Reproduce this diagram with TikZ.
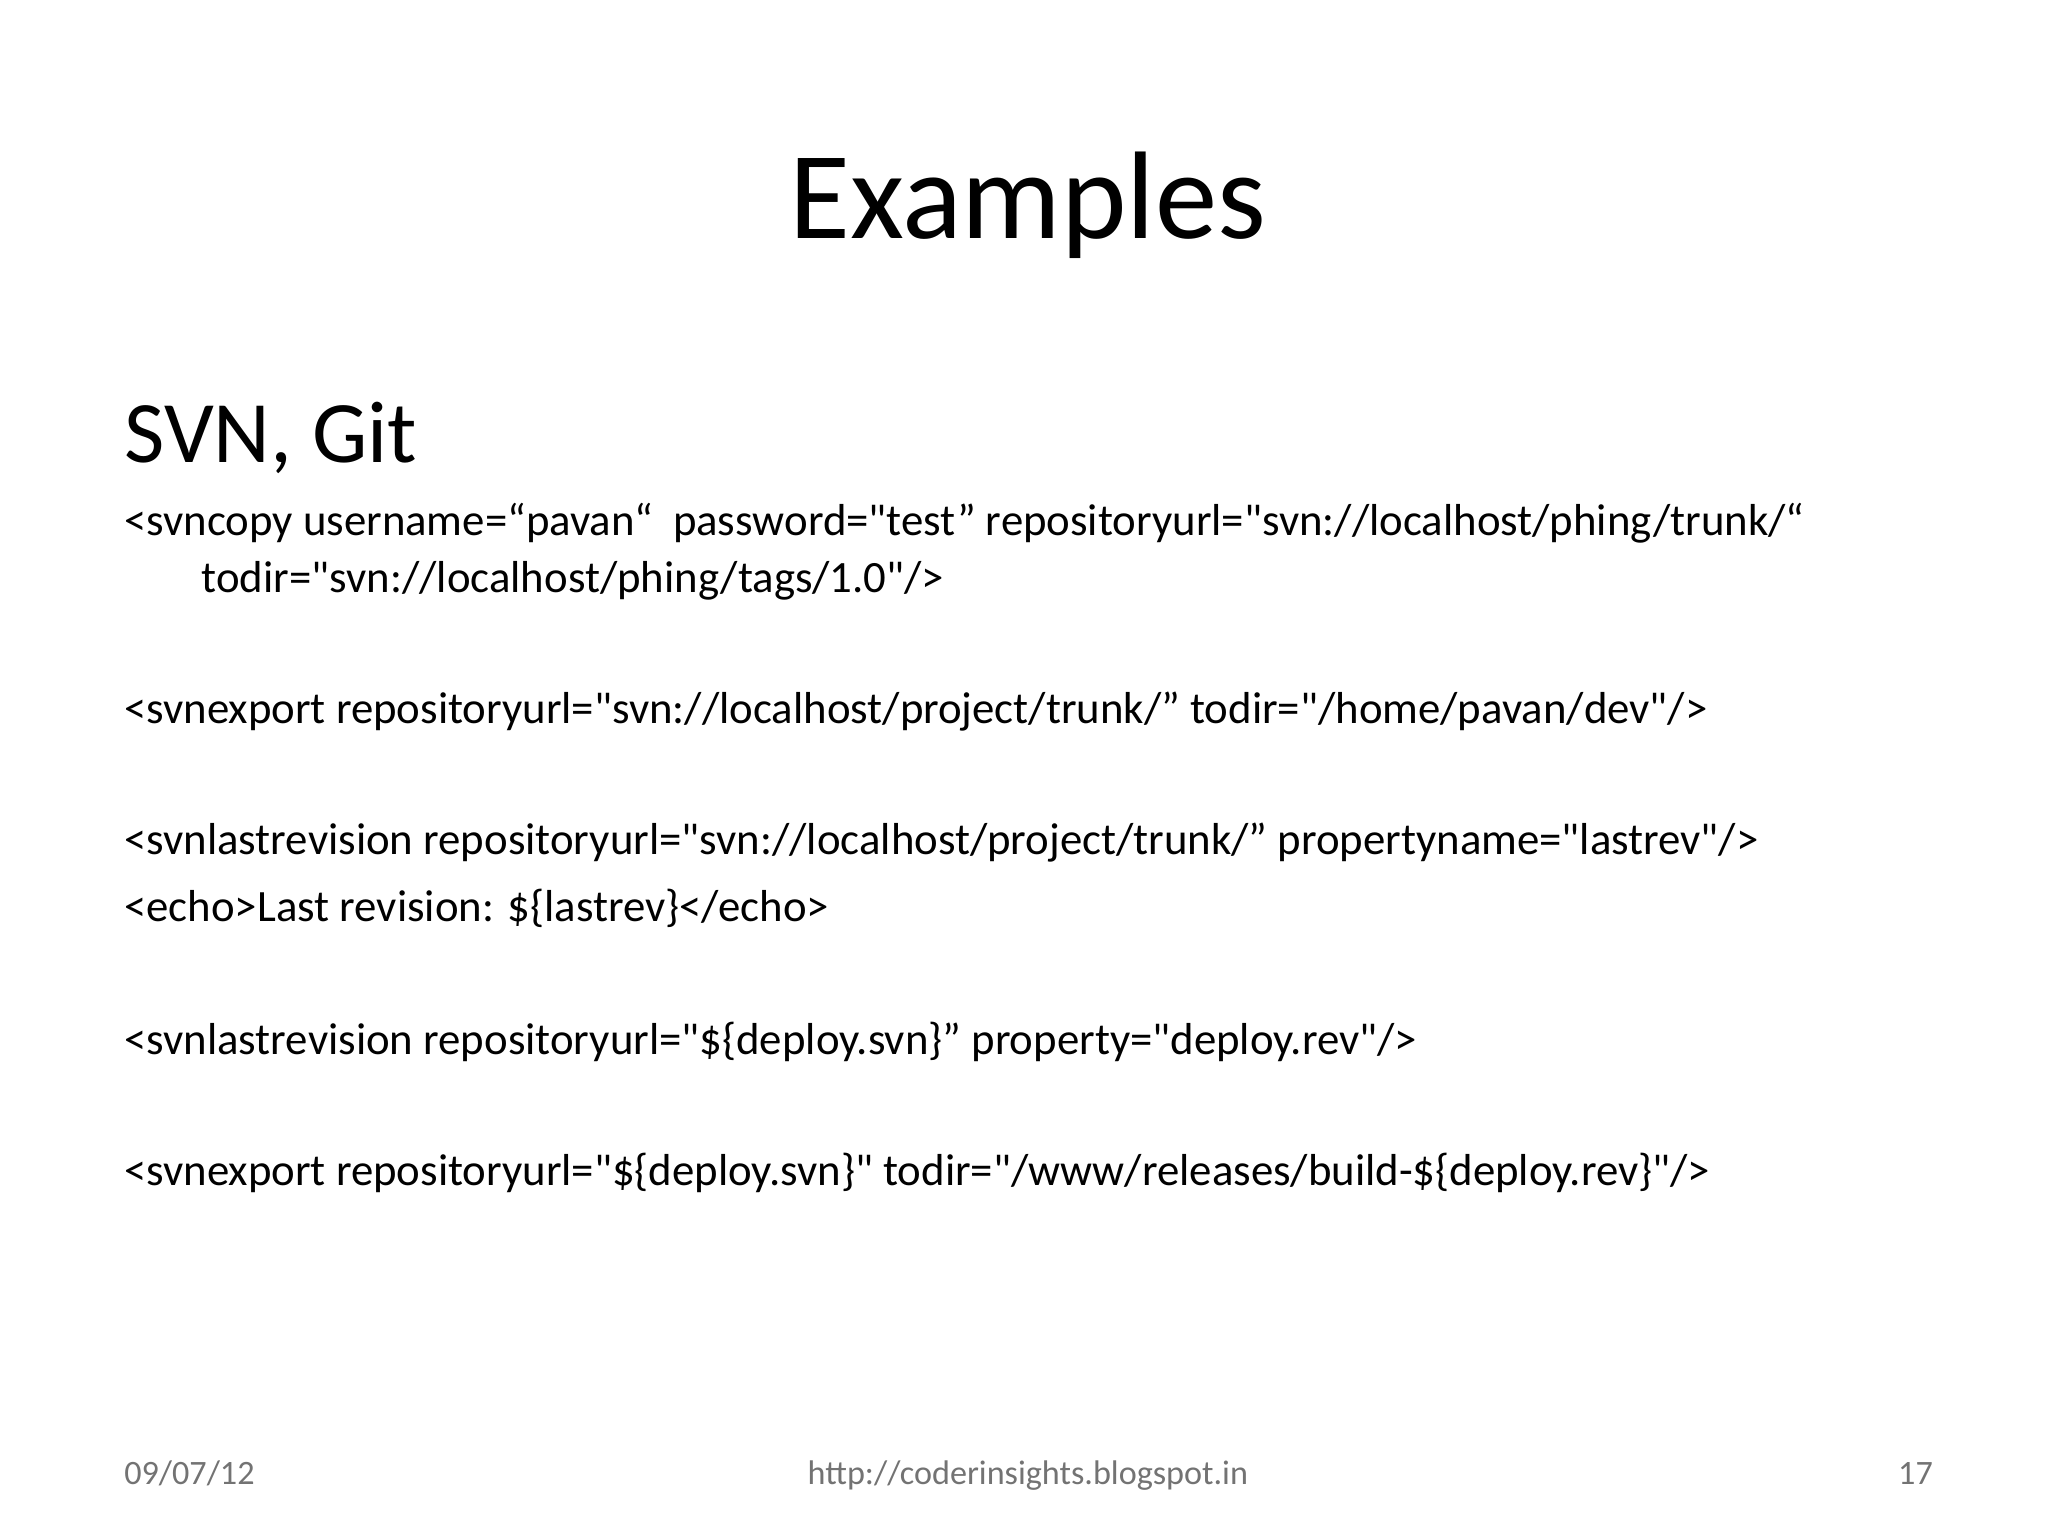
\documentclass[tikz,border=0pt]{standalone}
\usepackage{fontspec}
\setmainfont{Carlito}[Ligatures=TeXOff]
\begin{document}
\begin{tikzpicture}[x=0.01cm,y=-0.01cm,
  body/.style={anchor=base west,inner sep=0pt,font=\fontsize{9.7}{11}\selectfont},
  foot/.style={inner sep=0pt,anchor=base,text=black!55,font=\fontsize{7.4}{9}\selectfont}]
\useasboundingbox (0,0) rectangle (1560,1170);
\node[anchor=base,inner sep=0pt,font=\fontsize{27}{30}\selectfont] (title) at (783,182) {Examples};
\node[anchor=base west,inner sep=0pt,font=\fontsize{19}{22}\selectfont] (sub) at (94,352) {SVN, Git};
\node[body] (l1) at (94,408) {<svncopy username=“pavan“\ \ password="test” repositoryurl="svn://localhost/phing/trunk/“};
\node[body] (l2) at (153,451) {todir="svn://localhost/phing/tags/1.0"/>};
\node[body] (l3) at (94,551) {<svnexport repositoryurl="svn://localhost/project/trunk/” todir="/home/pavan/dev"/>};
\node[body] (l4) at (94,651) {<svnlastrevision repositoryurl="svn://localhost/project/trunk/” propertyname="lastrev"/>};
\node[body] (l5) at (94,702) {<echo>Last revision: \$\{lastrev\}</echo>};
\node[body] (l6) at (94,803) {<svnlastrevision repositoryurl="\$\{deploy.svn\}” property="deploy.rev"/>};
\node[body] (l7) at (94,903) {<svnexport repositoryurl="\$\{deploy.svn\}" todir="/www/releases/build-\$\{deploy.rev\}"/>};
\node[foot,anchor=base west] (date) at (94,1131) {09/07/12};
\node[foot] (url) at (783,1131) {http://coderinsights.blogspot.in};
\node[foot,anchor=base east] (num) at (1473,1131) {17};
\end{tikzpicture}
\end{document}
